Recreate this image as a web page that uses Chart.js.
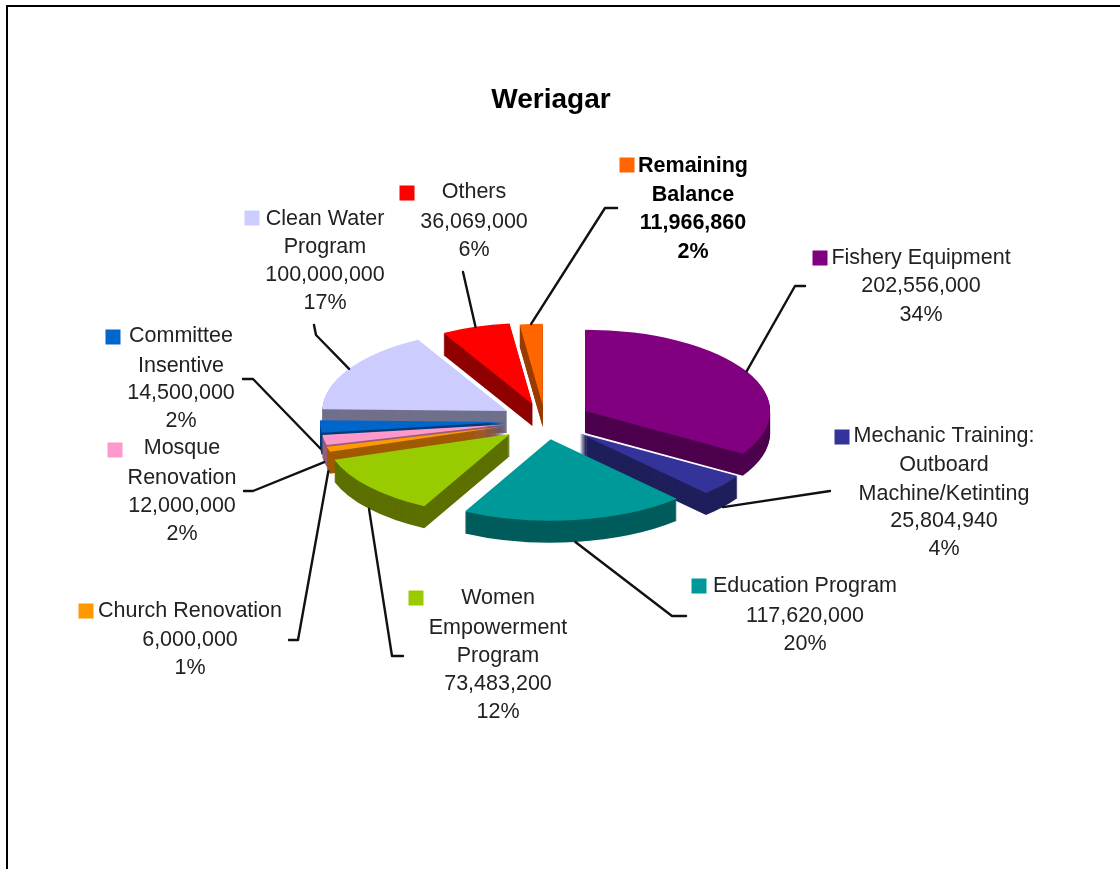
<!DOCTYPE html>
<html><head><meta charset="utf-8">
<style>
html,body{margin:0;padding:0;background:#fff;width:1120px;height:869px;overflow:hidden}
#wrap{position:absolute;left:0;top:0;width:1120px;height:869px;overflow:hidden}
#frame{position:absolute;left:6px;top:5px;width:1200px;height:900px;border:2px solid #000;box-sizing:border-box}
canvas{position:absolute;left:0;top:0}
</style>
<script src="https://cdn.jsdelivr.net/npm/chart.js@4"></script>
</head><body>
<div id="wrap"><div id="frame"></div><canvas id="c" width="1120" height="869"></canvas></div>
<script>
const categories = ['Fishery Equipment','Mechanic Training: Outboard Machine/Ketinting','Education Program','Women Empowerment Program','Church Renovation','Mosque Renovation','Committee Insentive','Clean Water Program','Others','Remaining Balance'];
const values = [202556000,25804940,117620000,73483200,6000000,12000000,14500000,100000000,36069000,11966860];
const percents = ['34%','4%','20%','12%','1%','2%','2%','17%','6%','2%'];
const colors = ['#800080','#333399','#009999','#99cc00','#ff9900','#ff99cc','#0066cc','#ccccff','#ff0000','#ff6600'];
const wallColors = ['#4d004d','#1f1f5c','#005c5c','#5c7000','#a05a00','#995c7a','#003d7a','#70708c','#8f0000','#993d00'];
const explode = [46,45,42,46,41,40,40,44,40,36];
const drawOrder = [8,9,7,0,6,5,4,1,3,2];
const nameLines = [['Fishery Equipment'],['Mechanic Training:','Outboard','Machine/Ketinting'],['Education Program'],['Women','Empowerment','Program'],['Church Renovation'],['Mosque','Renovation'],['Committee','Insentive'],['Clean Water','Program'],['Others'],['Remaining','Balance']];
/* label layout: text centre x, y of each line, swatch centre, elbow start & elbow */
const labelX = [921,944,805,498,190,182,181,325,474,693];
const labelY = [[258,286,315],[436,465,494,521,549],[586,616,644],[598,628,656,684,712],[611,640,668],[448,478,506,534],[336,366,393,421],[219,247,275,303],[192,222,250],[166,195,223,252]];
const swatch = [[820,258],[842,437],[699,586],[416,598],[86,611],[115,450],[113,337],[252,218],[407,193],[627,165]];
const elbows = [[[805,286],[795,286]],[[830,491]],[[686,616],[672,616]],[[403,656],[392,656]],[[289,640],[298,640]],[[244,491],[253,491]],[[243,379],[253,379]],[[314,325],[316,335]],[[463,272]],[[617,208],[605,208]]];
const centerX = 545, centerY = 421, squash = 0.44, depth = 22, radius = 185;

const pie3d = {
  id:'pie3d',
  beforeDatasetsDraw(chart){
    const ctx = chart.ctx, meta = chart.getDatasetMeta(0);
    const cx = chart.chartArea.left + chart.chartArea.width/2;
    const cy = chart.chartArea.top + chart.chartArea.height/2;
    drawOrder.forEach(i=>{
      const el = meta.data[i];
      const mid = (el.startAngle+el.endAngle)/2;
      const place = (dy)=>{
        ctx.translate(centerX, centerY+dy); ctx.scale(1,squash);
        ctx.translate(Math.cos(mid)*explode[i], Math.sin(mid)*explode[i]);
        ctx.translate(-cx,-cy);
      };
      const wall = Object.create(el,{options:{value:Object.assign({},el.options,{backgroundColor:wallColors[i],borderColor:wallColors[i],borderWidth:0})}});
      for(let d=depth;d>=1;d--){ ctx.save(); place(d); Chart.ArcElement.prototype.draw.call(wall,ctx); ctx.restore(); }
      ctx.save(); place(0); el.draw(ctx); ctx.restore();
    });
    return false;
  },
  afterDraw(chart){
    const ctx = chart.ctx, meta = chart.getDatasetMeta(0);
    ctx.save();
    ctx.strokeStyle='#111'; ctx.lineWidth=2.4; ctx.lineJoin='round'; ctx.lineCap='round';
    meta.data.forEach((el,i)=>{
      const mid=(el.startAngle+el.endAngle)/2, r=radius+explode[i];
      const ex=centerX+Math.cos(mid)*r;
      const ey=centerY+Math.sin(mid)*r*squash+(Math.sin(mid)>0?depth:0);
      ctx.beginPath();
      elbows[i].forEach((p,j)=> j?ctx.lineTo(p[0],p[1]):ctx.moveTo(p[0],p[1]));
      ctx.lineTo(ex,ey); ctx.stroke();
    });
    ctx.textAlign='center'; ctx.textBaseline='middle';
    categories.forEach((c,i)=>{
      const bold = i===9;
      ctx.font=(bold?'bold ':'')+'21.5px "Liberation Sans", Arial, sans-serif';
      ctx.fillStyle=bold?'#000':'#222';
      const lines=nameLines[i].concat([values[i].toLocaleString('en-US'),percents[i]]);
      lines.forEach((t,j)=>ctx.fillText(t,labelX[i],labelY[i][j]));
      ctx.fillStyle=colors[i];
      ctx.fillRect(swatch[i][0]-7.5,swatch[i][1]-7.5,15,15);
    });
    ctx.restore();
  }
};

new Chart(document.getElementById('c'),{
  type:'pie',
  data:{labels:categories,datasets:[{data:values,backgroundColor:colors,borderWidth:0,radius:radius}]},
  options:{
    responsive:false,animation:false,
    rotation:0,
    radius:radius,
    layout:{padding:{left:0,right:18,top:83}},
    events:[],
    plugins:{
      legend:{display:false},tooltip:{enabled:false},
      title:{display:true,text:'Weriagar',color:'#000',font:{family:'"Liberation Sans", Arial, sans-serif',size:28,weight:'bold'},padding:{top:0,bottom:0}}
    }
  },
  plugins:[pie3d]
});
</script>
</body></html>
